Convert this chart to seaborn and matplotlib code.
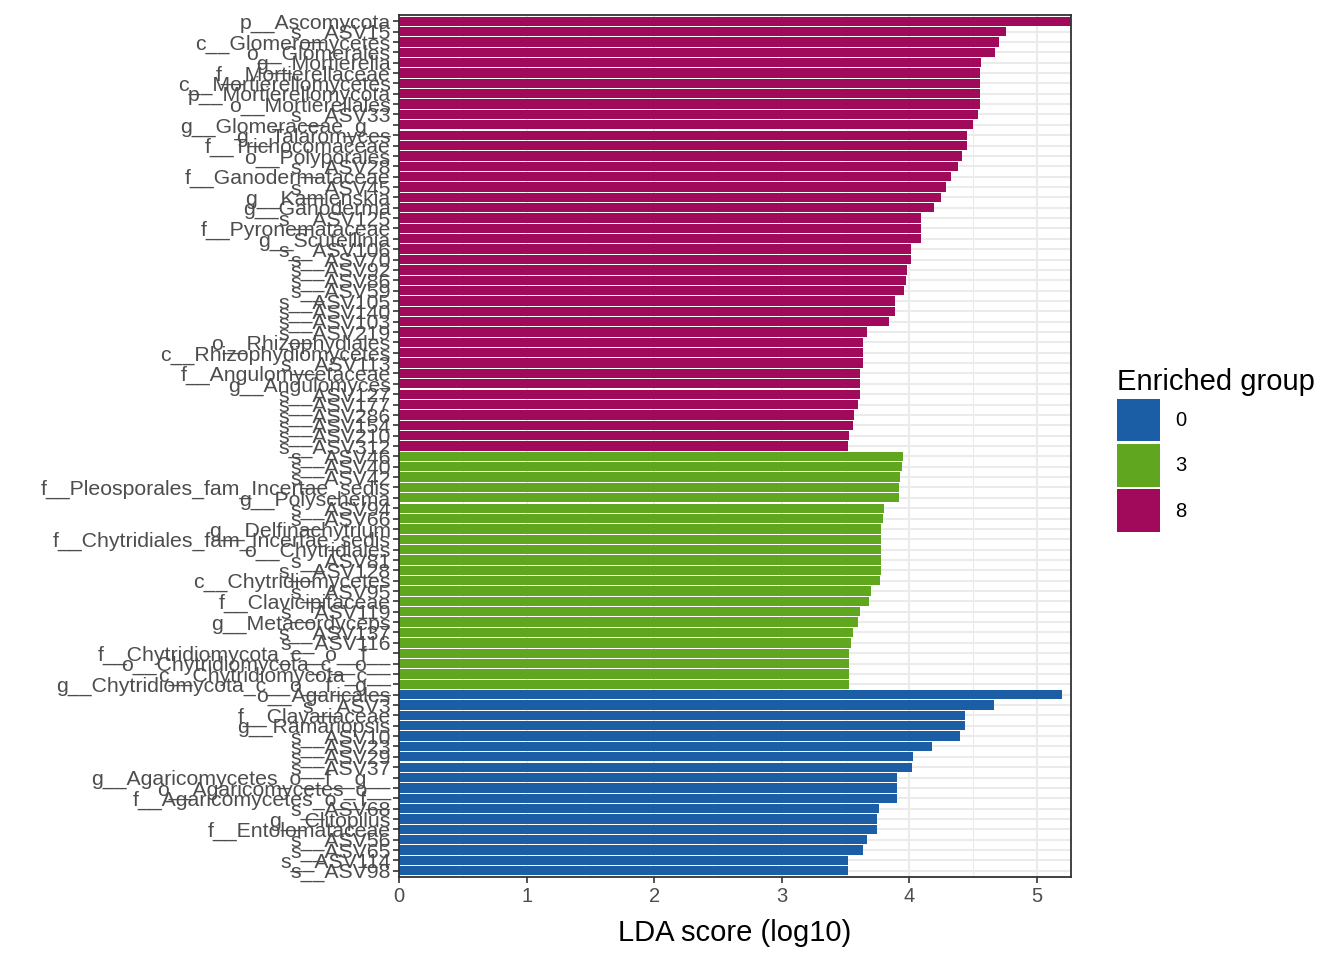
import numpy as np
import pandas as pd
import matplotlib
matplotlib.use('Agg')
import matplotlib.pyplot as plt
from matplotlib.patches import Patch
from matplotlib.ticker import MultipleLocator
import seaborn as sns

# features, top to bottom, with their enriched group and LDA score
features_8 = [
    'p__Ascomycota', 's__ASV15', 'c__Glomeromycetes', 'o__Glomerales', 'g__Mortierella',
    'f__Mortierellaceae', 'c__Mortierellomycetes', 'p__Mortierellomycota', 'o__Mortierellales',
    's__ASV33', 'g__Glomeraceae_g__', 'g__Talaromyces', 'f__Trichocomaceae', 'o__Polyporales',
    's__ASV28', 'f__Ganodermataceae', 's__ASV45', 'g__Kamienskia', 'g__Ganoderma', 's__ASV125',
    'f__Pyronemataceae', 'g__Scutellinia', 's__ASV106', 's__ASV70', 's__ASV92', 's__ASV86',
    's__ASV59', 's__ASV105', 's__ASV140', 's__ASV103', 's__ASV219', 'o__Rhizophydiales',
    'c__Rhizophydiomycetes', 's__ASV113', 'f__Angulomycetaceae', 'g__Angulomyces', 's__ASV127',
    's__ASV177', 's__ASV286', 's__ASV154', 's__ASV210', 's__ASV312',
]
lda_8 = [
    5.27, 4.76, 4.70, 4.67, 4.56, 4.55, 4.55, 4.55, 4.55, 4.54,
    4.50, 4.45, 4.45, 4.41, 4.38, 4.33, 4.29, 4.25, 4.19, 4.09,
    4.09, 4.09, 4.01, 4.01, 3.98, 3.97, 3.96, 3.89, 3.89, 3.84,
    3.67, 3.64, 3.64, 3.64, 3.61, 3.61, 3.61, 3.60, 3.57, 3.56,
    3.53, 3.52,
]

features_3 = [
    's__ASV46', 's__ASV40', 's__ASV42', 'f__Pleosporales_fam_Incertae_sedis', 'g__Polyschema',
    's__ASV94', 's__ASV66', 'g__Delfinachytrium', 'f__Chytridiales_fam_Incertae_sedis',
    'o__Chytridiales', 's__ASV81', 's__ASV128', 'c__Chytridiomycetes', 's__ASV95',
    'f__Clavicipitaceae', 's__ASV119', 'g__Metacordyceps', 's__ASV137', 's__ASV116',
    'f__Chytridiomycota_c__o__f__', 'o__Chytridiomycota_c__o__', 'c__Chytridiomycota_c__',
    'g__Chytridiomycota_c__o__f__g__',
]
lda_3 = [
    3.95, 3.94, 3.93, 3.92, 3.92, 3.80, 3.79, 3.78, 3.78, 3.78,
    3.78, 3.78, 3.77, 3.70, 3.68, 3.61, 3.60, 3.56, 3.54, 3.53,
    3.53, 3.53, 3.53,
]

features_0 = [
    'o__Agaricales', 's__ASV3', 'f__Clavariaceae', 'g__Ramariopsis', 's__ASV10', 's__ASV23',
    's__ASV29', 's__ASV37', 'g__Agaricomycetes_o__f__g__', 'o__Agaricomycetes_o__',
    'f__Agaricomycetes_o__f__', 's__ASV68', 'g__Clitopilus', 'f__Entolomataceae', 's__ASV56',
    's__ASV65', 's__ASV114', 's__ASV98',
]
lda_0 = [
    5.20, 4.66, 4.44, 4.44, 4.40, 4.18, 4.03, 4.02, 3.90, 3.90,
    3.90, 3.76, 3.75, 3.75, 3.67, 3.64, 3.52, 3.52,
]

groups = ['0', '3', '8']
group_colors = {'0': '#1C5EA5', '3': '#60A61E', '8': '#A10A5A'}

df = pd.DataFrame({
    'feature': features_8 + features_3 + features_0,
    'lda': lda_8 + lda_3 + lda_0,
    'group': ['8'] * len(features_8) + ['3'] * len(features_3) + ['0'] * len(features_0),
})

plt.rcParams['font.family'] = ['Liberation Sans', 'DejaVu Sans']

fig = plt.figure(figsize=(13.44, 9.6), dpi=100)
ax = fig.add_axes([399 / 1344, 1 - 877 / 960, 672 / 1344, 862 / 960])

sns.barplot(data=df, x='lda', y='feature', hue='group', order=df['feature'].tolist(),
            hue_order=groups, palette=group_colors, dodge=False, width=0.9,
            saturation=1, legend=False, ax=ax)

# ggplot-like grid behind the bars (seaborn switches the y grid off, so set it after)
ax.set_axisbelow(True)
ax.xaxis.set_minor_locator(MultipleLocator(0.5))
ax.grid(True, which='major', axis='both', color='#EBEBEB', linewidth=1.5)
ax.grid(True, which='minor', axis='x', color='#EBEBEB', linewidth=0.8)

n = len(df)
ax.set_ylim(n - 1 + 0.6, -0.6)
ax.set_xlim(0, 5.267)
ax.set_xticks(range(0, 6))
ax.set_xlabel('LDA score (log10)', fontsize=21, color='black', labelpad=9)
ax.set_ylabel('')

ax.tick_params(axis='y', which='major', labelsize=15.3, labelcolor='#4D4D4D',
               color='#333333', length=4.5, width=1.2, pad=1.5)
ax.tick_params(axis='x', which='major', labelsize=14.5, labelcolor='#4D4D4D',
               color='#333333', length=4.5, width=1.2, pad=3)
ax.tick_params(axis='x', which='minor', length=0)
for s in ax.spines.values():
    s.set_color('#333333')
    s.set_linewidth(1.3)

handles = [Patch(facecolor=group_colors[g], edgecolor='none') for g in groups]
leg = fig.legend(handles, groups, title='Enriched group', loc='upper left',
                 bbox_to_anchor=(1101 / 1344, 1 - 352 / 960), frameon=False,
                 fontsize=14.5, title_fontsize=21, handlelength=2.14, handleheight=2.9,
                 labelspacing=0.12, handletextpad=0.75, borderpad=0.3)
leg._legend_box.align = 'left'

fig.savefig('out.png', dpi=100)
